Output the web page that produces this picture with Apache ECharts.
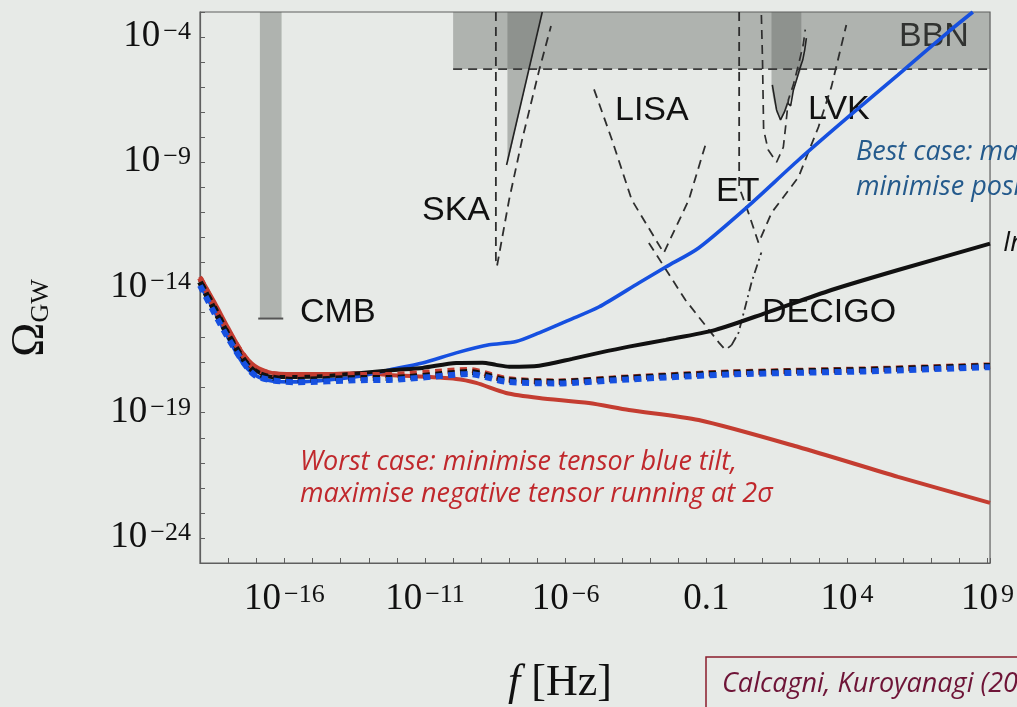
<!DOCTYPE html>
<html><head><meta charset="utf-8">
<script src="https://cdn.jsdelivr.net/npm/echarts@6/dist/echarts.min.js"></script>
<style>html,body{margin:0;padding:0;background:#e7eae7;}#c{width:1017px;height:707px;}</style>
</head><body><div id="c"></div>
<script>
// All values are log10: x = log10(f / Hz), y = log10(Omega_GW)
const xTickValues = [-16, -11, -6, -1, 4, 9];
const xTickTexts = ['10^−16', '10^−11', '10^−6', '0.1', '10^4', '10^9'];
const yTickValues = [-24, -19, -14, -9, -4];
const yTickTexts = ['10^−24', '10^−19', '10^−14', '10^−9', '10^−4'];

const redSolid = [[-19,-13.57],[-18.47,-14.62],[-18.0,-15.61],[-17.51,-16.57],[-17.05,-17.13],[-16.45,-17.41],[-15.63,-17.45],[-14.46,-17.45],[-13.26,-17.41],[-12.27,-17.49],[-9.89,-17.65],[-9.18,-17.81],[-8.12,-18.21],[-6.94,-18.41],[-5.17,-18.61],[-3.75,-18.89],[-1.27,-19.29],[2.28,-20.37],[5.82,-21.56],[9.09,-22.60]];
const blackSolid = [[-19,-13.70],[-18.47,-14.78],[-18.0,-15.81],[-17.51,-16.77],[-17.05,-17.29],[-16.45,-17.57],[-15.63,-17.57],[-14.46,-17.53],[-13.26,-17.41],[-12.09,-17.29],[-11.09,-17.21],[-9.89,-17.01],[-8.96,-17.0],[-8.47,-17.09],[-8.01,-17.16],[-6.94,-17.12],[-5.77,-16.85],[-4.82,-16.61],[-3.75,-16.36],[-2.44,-16.09],[-0.67,-15.69],[1.11,-15.02],[3.45,-14.10],[5.82,-13.30],[9.09,-12.25]];
const blueSolid = [[-19,-13.90],[-18.47,-14.98],[-18.0,-16.01],[-17.51,-16.97],[-17.05,-17.49],[-16.45,-17.73],[-15.63,-17.77],[-14.46,-17.69],[-13.26,-17.53],[-12.27,-17.29],[-11.09,-17.01],[-9.89,-16.61],[-8.72,-16.29],[-7.76,-16.16],[-6.94,-15.81],[-5.88,-15.30],[-4.82,-14.78],[-3.40,-13.82],[-2.44,-13.18],[-1.27,-12.42],[0.50,-10.74],[2.28,-8.91],[4.05,-7.19],[5.82,-5.51],[7.60,-3.80],[8.48,-3.0]];
const redDotted = [[-19,-13.62],[-18.0,-15.75],[-17.05,-17.22],[-15.63,-17.55],[-13.26,-17.49],[-12.27,-17.49],[-9.89,-17.31],[-9.43,-17.29],[-8.12,-17.65],[-6.35,-17.75],[-3.75,-17.59],[-0.10,-17.39],[4.65,-17.27],[9.09,-17.11]];
const blackDotted = [[-19,-13.78],[-18.0,-15.89],[-17.05,-17.37],[-15.63,-17.69],[-13.26,-17.61],[-12.27,-17.61],[-9.89,-17.41],[-9.43,-17.37],[-8.12,-17.69],[-6.35,-17.77],[-3.75,-17.61],[-0.10,-17.41],[4.65,-17.29],[9.09,-17.13]];
const blueDotted = [[-19,-13.92],[-18.0,-16.02],[-17.05,-17.50],[-15.63,-17.78],[-13.26,-17.70],[-12.27,-17.69],[-9.89,-17.48],[-9.43,-17.45],[-8.12,-17.76],[-6.35,-17.83],[-3.75,-17.67],[-0.10,-17.47],[4.65,-17.35],[9.09,-17.18]];

// experimental bounds / sensitivities
const cmbRegion = [[-16.87,-3],[-16.10,-3],[-16.10,-15.24],[-16.87,-15.24]];
const cmbLine = [[-16.93,-15.24],[-16.04,-15.24]];
const bbnRegion = [[-10,-3],[9.09,-3],[9.09,-5.28],[-10,-5.28]];
const bbnLine = [[-10,-5.28],[9.09,-5.28]];
const ptaRegion = [[-8.07,-9.11],[-8.07,-3],[-6.83,-3]];
const ptaLine = [[-8.10,-9.11],[-6.83,-3]];
const lvkRegion = [[1.32,-3],[2.38,-3],[2.38,-5.28],[2.17,-5.91],[1.92,-6.71],[1.67,-7.31],[1.50,-7.03],[1.39,-6.51],[1.32,-6.03]];
const lvkSolid = [[1.35,-5.91],[1.50,-6.91],[1.64,-7.31],[1.78,-6.99],[1.89,-6.63],[2.0,-6.75],[2.1,-6.11],[2.21,-5.71],[2.31,-5.32],[2.43,-4.92],[2.50,-4.52],[2.56,-4.04]];
const lvkDashed = [[0.96,-3.12],[1.0,-4.9],[1.04,-7.7],[1.2,-8.5],[1.5,-9.0],[1.74,-8.4],[1.82,-7.6],[1.92,-6.5],[2.1,-5.9],[2.28,-5.1],[2.45,-4.3],[2.52,-3.7]];
const skaCurve = [[-8.48,-3],[-8.48,-12.9],[-8.44,-13.15],[-8.01,-10.5],[-7.55,-8.11],[-6.94,-5.32],[-6.52,-3.56]];
const lisaCurve = [[-4.99,-6.09],[-4.35,-8.11],[-3.65,-10.5],[-2.51,-12.62],[-1.62,-10.5],[-1.03,-8.31]];
const decigoLeft = [[-3.04,-12.22],[-1.74,-14.5],[-0.55,-16.2],[-0.32,-16.49],[-0.1,-16.3]];
const decigoRight = [[-0.1,-16.3],[0.15,-15.8],[0.61,-13.8],[0.96,-12.6]];
const etCurve = [[0.17,-3],[0.17,-9.99],[0.50,-11.02],[0.86,-12.22],[1.32,-11.02],[2.28,-9.59],[2.99,-7.59],[3.45,-5.99],[3.98,-3.52]];

const chart = echarts.init(document.getElementById('c'), null, {renderer: 'canvas'});

function richLabel(t) {
  const k = t.indexOf('^');
  if (k < 0) return '{b|' + t + '}';
  return '{b|' + t.slice(0, k) + '}{s|' + t.slice(k + 1) + '}';
}
function fmt(vals, texts) {
  return function (v) {
    for (let i = 0; i < vals.length; i++) if (Math.abs(v - vals[i]) < 1e-6) return richLabel(texts[i]);
    return '';
  };
}
const tickRich = {
  b: {fontFamily: 'Liberation Serif', fontSize: 37, color: '#111', verticalAlign: 'bottom', lineHeight: 36},
  s: {fontFamily: 'Liberation Serif', fontSize: 26, color: '#111', verticalAlign: 'top', lineHeight: 24, padding: [0, 0, 0, 3]}
};
const shade = 'rgba(95,99,95,0.41)';
function poly(points, z) {
  return {
    type: 'custom', coordinateSystem: 'cartesian2d', silent: true, z: z,
    data: [points[0]],
    renderItem: function (params, api) {
      return {type: 'polygon', shape: {points: points.map(function (p) { return api.coord(p); })}, style: {fill: shade}};
    }
  };
}
function line(data, color, width, type, z, smooth) {
  return {
    type: 'line', data: data, showSymbol: false, symbol: 'none', silent: true, z: z,
    smooth: smooth ? 0.25 : false,
    lineStyle: {color: color, width: width, type: type, cap: 'butt'}
  };
}
const dash = [9, 6];
const series = [
  poly(cmbRegion, 1), poly(bbnRegion, 1), poly(ptaRegion, 1), poly(lvkRegion, 1),
  line(cmbLine, '#555', 2, 'solid', 2),
  line(bbnLine, '#3a3a3a', 1.8, dash, 2),
  line(ptaLine, '#222', 1.6, 'solid', 2),
  line(lvkSolid, '#222', 1.6, 'solid', 2),
  line(lvkDashed, '#2e2e2e', 1.7, dash, 2),
  line(skaCurve, '#2e2e2e', 1.8, dash, 2),
  line(lisaCurve, '#2e2e2e', 1.8, dash, 2),
  line(decigoLeft, '#2e2e2e', 1.8, dash, 2),
  line(decigoRight, '#2e2e2e', 1.8, [9, 4, 2, 4], 2),
  line(etCurve, '#2e2e2e', 1.8, dash, 2),
  line(redSolid, '#c43d31', 4, 'solid', 3, true),
  line(blueSolid, '#1650e0', 3.6, 'solid', 3, true),
  line(blackSolid, '#111111', 4, 'solid', 4, true),
  line(redDotted, '#c43d31', 6, [7, 5.5], 5, true),
  line(blackDotted, '#111111', 6, [7, 5.5], 5, true),
  line(blueDotted, '#1650e0', 6, [7, 5.5], 6, true)
];

function txt(x, y, s, font, color, align) {
  return {type: 'text', x: x, y: y, z: 1, silent: true,
    style: {text: s, font: font, fill: color, align: align || 'left', verticalAlign: 'middle', textAlign: align || 'left', textVerticalAlign: 'middle'}};
}
const det = '34px "Liberation Sans"';
const note = 'italic 27px "Open Sans"';
const graphics = [
  txt(300, 313, 'CMB', det, '#111'),
  txt(490, 211, 'SKA', det, '#111', 'right'),
  txt(615, 111, 'LISA', det, '#111'),
  txt(716, 192, 'ET', det, '#111'),
  txt(808, 110, 'LVK', det, '#111'),
  txt(899, 37, 'BBN', det, '#111'),
  txt(762, 313, 'DECIGO', det, '#111'),
  txt(856, 152, 'Best case: maximise tensor blue tilt,', note, '#245a8c'),
  txt(856, 187, 'minimise positive tensor running at 2σ', note, '#245a8c'),
  txt(1003, 243, 'Intermediate case', note, '#111'),
  txt(300, 462, 'Worst case: minimise tensor blue tilt,', note, '#c0282c'),
  txt(300, 494, 'maximise negative tensor running at 2σ', note, '#c0282c'),
  {type: 'rect', z: 1, silent: true, shape: {x: 706, y: 657, width: 400, height: 70}, style: {fill: 'none', stroke: '#8b1c2c', lineWidth: 1.5}},
  txt(722, 684, 'Calcagni, Kuroyanagi (2021)', 'italic 27px "Open Sans"', '#6e1437'),
  {type: 'text', z: 1, silent: true, x: 560, y: 683,
    style: {text: '{i|f}{r| [Hz]}', align: 'center', verticalAlign: 'middle', textAlign: 'center', textVerticalAlign: 'middle',
      rich: {i: {fontFamily: 'Liberation Serif', fontStyle: 'italic', fontSize: 44, fill: '#111', color: '#111'},
             r: {fontFamily: 'Liberation Serif', fontSize: 44, fill: '#111', color: '#111'}}}},
  {type: 'text', z: 1, silent: true, x: 32, y: 318, rotation: Math.PI / 2,
    style: {text: '{o|Ω}{s|GW}', align: 'center', verticalAlign: 'middle', textAlign: 'center', textVerticalAlign: 'middle',
      rich: {o: {fontFamily: 'Liberation Serif', fontSize: 46, color: '#111', fill: '#111', verticalAlign: 'bottom', lineHeight: 44},
             s: {fontFamily: 'Liberation Serif', fontSize: 26, color: '#111', fill: '#111', verticalAlign: 'bottom', lineHeight: 38}}}}
];

chart.setOption({
  backgroundColor: '#e7eae7',
  animation: false,
  grid: {left: 200, top: 12, right: 25, bottom: 144, show: true, borderColor: '#5f5f5f', borderWidth: 1.2, backgroundColor: 'transparent'},
  xAxis: {
    type: 'value', min: -19, max: 9.09, interval: 1,
    axisLine: {show: true, onZero: false, lineStyle: {color: '#5f5f5f', width: 1.2}},
    axisTick: {show: true, inside: true, length: 5, lineStyle: {color: '#5f5f5f', width: 1}},
    splitLine: {show: false},
    axisLabel: {margin: 19, formatter: fmt(xTickValues, xTickTexts), rich: tickRich}
  },
  yAxis: {
    type: 'value', min: -25, max: -3, interval: 1,
    axisLine: {show: true, onZero: false, lineStyle: {color: '#5f5f5f', width: 1.2}},
    axisTick: {show: true, inside: true, length: 5, lineStyle: {color: '#5f5f5f', width: 1}},
    splitLine: {show: false},
    axisLabel: {margin: 9, formatter: fmt(yTickValues, yTickTexts), rich: tickRich}
  },
  graphic: graphics,
  series: series
});
</script></body></html>
